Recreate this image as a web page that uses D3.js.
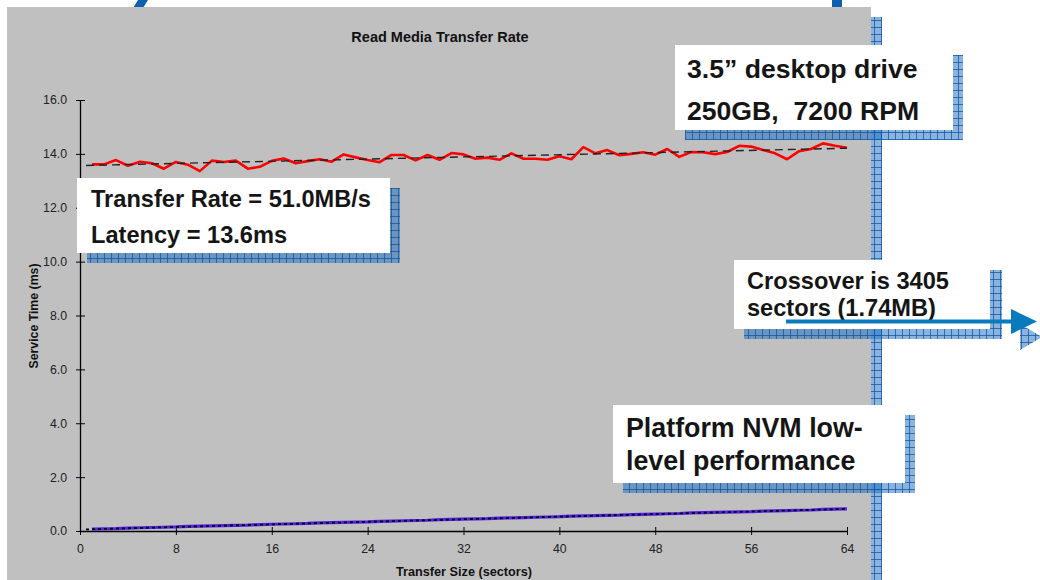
<!DOCTYPE html>
<html><head><meta charset="utf-8">
<script src="https://cdn.jsdelivr.net/npm/d3@7"></script>
<style>
html,body{margin:0;padding:0;background:#fff;}
svg{display:block;font-family:"Liberation Sans",Arial,sans-serif;}
text{white-space:pre;}
</style></head>
<body>
<svg id="chart" width="1040" height="580"></svg>
<script>
// ---- data ----
const sectors = d3.range(1, 65);
const diskTime = [13.61,13.61,13.77,13.56,13.71,13.65,13.45,13.70,13.60,13.36,
                  13.75,13.70,13.75,13.45,13.52,13.74,13.83,13.65,13.73,13.80,
                  13.71,13.98,13.87,13.77,13.69,13.96,13.96,13.76,13.96,13.78,
                  14.03,13.98,13.82,13.86,13.78,14.02,13.82,13.82,13.78,13.91,
                  13.80,14.25,14.02,14.14,13.95,14.00,14.06,13.97,14.18,13.89,
                  14.07,14.06,13.99,14.07,14.30,14.27,14.14,14.02,13.80,14.10,
                  14.18,14.39,14.30,14.23];
const nvmTime = [0.07,0.08,0.09,0.11,0.12,0.13,0.14,0.15,0.17,0.18,
                 0.19,0.20,0.21,0.22,0.24,0.25,0.26,0.27,0.28,0.30,
                 0.31,0.32,0.33,0.34,0.36,0.37,0.38,0.39,0.40,0.42,
                 0.43,0.44,0.45,0.46,0.48,0.49,0.50,0.51,0.52,0.53,
                 0.55,0.56,0.57,0.58,0.59,0.61,0.62,0.63,0.64,0.65,
                 0.67,0.68,0.69,0.70,0.71,0.72,0.74,0.75,0.76,0.77,
                 0.78,0.80,0.81,0.82];
const diskTrendX = [0.5, 64];
const diskTrendY = [13.57, 14.21];
const nvmTrendX = [0.5, 64];
const nvmTrendY = [0.06, 0.82];
const xTicks = [0, 8, 16, 24, 32, 40, 48, 56, 64];
const yTicks = [0, 2, 4, 6, 8, 10, 12, 14, 16];
const titleText = "Read Media Transfer Rate";
const xLabel = "Transfer Size (sectors)";
const yLabel = "Service Time (ms)";

const svg = d3.select("#chart");
const defs = svg.append("defs");
const pat = defs.append("pattern").attr("id","grid").attr("patternUnits","userSpaceOnUse")
  .attr("width",7).attr("height",7);
pat.append("rect").attr("width",7).attr("height",7).attr("fill","rgba(30,110,190,0.52)");
pat.append("path").attr("d","M6.5,0V7M0,6.5H7").attr("stroke","rgba(15,85,165,0.75)").attr("stroke-width",1).attr("fill","none");

// slide decoration
svg.append("polygon").attr("points","138,0 148,0 143,8 133,8").attr("fill","#1060b0");
svg.append("rect").attr("x",832).attr("y",0).attr("width",10).attr("height",8).attr("fill","#0d5fad");
// chart area background
svg.append("rect").attr("x",7).attr("y",7).attr("width",864).attr("height",573).attr("fill","#c0c0c0");
svg.append("rect").attr("x",871).attr("y",17).attr("width",11).attr("height",563).attr("fill","url(#grid)");

const x = d3.scaleLinear().domain([0,64]).range([80,847]);
const y = d3.scaleLinear().domain([0,16]).range([531,100]);

// axes
const yAxis = svg.append("g").attr("transform","translate(80,0)")
  .call(d3.axisLeft(y).tickValues(yTicks).tickFormat(d3.format(".1f")).tickSizeOuter(0).tickSizeInner(4).tickPadding(9));
yAxis.select(".domain").attr("stroke","#000").attr("stroke-width",1.3);
yAxis.selectAll(".tick line").attr("x1",-4).attr("x2",5).attr("stroke","#000");
yAxis.selectAll(".tick text").attr("font-size",12.3).attr("fill","#222").attr("font-family","Liberation Sans, Arial, sans-serif");

const xAxis = svg.append("g").attr("transform","translate(0,531)")
  .call(d3.axisBottom(x).tickValues(xTicks).tickFormat(d3.format("d")).tickSizeOuter(0).tickSizeInner(4));
xAxis.select(".domain").attr("stroke","#000").attr("stroke-width",1.3);
xAxis.selectAll(".tick line").attr("y1",-4).attr("y2",4).attr("stroke","#000");
xAxis.selectAll(".tick text").attr("font-size",12.3).attr("fill","#222").attr("dy",0).attr("y",22)
  .attr("font-family","Liberation Sans, Arial, sans-serif");

// lines
const line = d3.line().x(d=>x(d[0])).y(d=>y(d[1]));
svg.append("path").datum(sectors.map((s,i)=>[s,diskTime[i]])).attr("d",line)
  .attr("fill","none").attr("stroke","#ff0000").attr("stroke-width",2.6).attr("stroke-linejoin","round");
svg.append("path").datum(diskTrendX.map((s,i)=>[s,diskTrendY[i]])).attr("d",line)
  .attr("fill","none").attr("stroke","#222").attr("stroke-width",1.4).attr("stroke-dasharray","8,5");
svg.append("path").datum(sectors.map((s,i)=>[s,nvmTime[i]])).attr("d",line)
  .attr("fill","none").attr("stroke","#5522e6").attr("stroke-width",3.2);
svg.append("path").datum(nvmTrendX.map((s,i)=>[s,nvmTrendY[i]])).attr("d",line)
  .attr("fill","none").attr("stroke","#000").attr("stroke-width",1.8).attr("stroke-dasharray","3,3");

// titles
svg.append("text").attr("x",440).attr("y",42).attr("text-anchor","middle").attr("font-weight","bold")
  .attr("font-size",14.5).attr("fill","#111").text(titleText);
svg.append("text").attr("x",464).attr("y",576).attr("text-anchor","middle").attr("font-weight","bold")
  .attr("font-size",12.7).attr("fill","#111").text(xLabel);
svg.append("text").attr("transform","translate(38,316) rotate(-90)").attr("text-anchor","middle").attr("font-weight","bold")
  .attr("font-size",12.3).attr("fill","#111").text(yLabel);

// callout boxes
function callout(bx, by, bw, bh, lines, fs){
  svg.append("rect").attr("x",bx+10).attr("y",by+10).attr("width",bw).attr("height",bh).attr("fill","url(#grid)");
  svg.append("rect").attr("x",bx).attr("y",by).attr("width",bw).attr("height",bh).attr("fill","#fff");
  lines.forEach(l=>{
    svg.append("text").attr("x",l[0]).attr("y",l[1]).attr("font-weight","bold").attr("font-size",fs)
      .attr("fill","#151515").text(l[2]);
  });
}
callout(675,45,278,85,[[687,78,"3.5\u201d desktop drive"],[687,120,"250GB,  7200 RPM"]],26.6);
callout(77,178,313,75,[[91,207,"Transfer Rate = 51.0MB/s"],[91,243,"Latency = 13.6ms"]],23.6);

// crossover box with arrow
svg.append("rect").attr("x",744).attr("y",270).attr("width",258).attr("height",69).attr("fill","url(#grid)");
svg.append("polygon").attr("points","1020,324 1042,337 1020,350").attr("fill","url(#grid)");
svg.append("rect").attr("x",734).attr("y",260).attr("width",256).attr("height",69).attr("fill","#fff");
svg.append("text").attr("x",747).attr("y",289).attr("font-weight","bold").attr("font-size",23.6).attr("fill","#151515").text("Crossover is 3405");
svg.append("text").attr("x",747).attr("y",316).attr("font-weight","bold").attr("font-size",23.6).attr("fill","#151515").text("sectors (1.74MB)");
svg.append("line").attr("x1",786).attr("x2",1013).attr("y1",321.5).attr("y2",321.5).attr("stroke","#0a7abf").attr("stroke-width",4);
svg.append("polygon").attr("points","1011,309 1037,321.5 1011,334").attr("fill","#0a7abf");

callout(613,405,292,78,[[626,437,"Platform NVM low-"],[626,470,"level performance"]],26.8);
</script>
</body></html>
